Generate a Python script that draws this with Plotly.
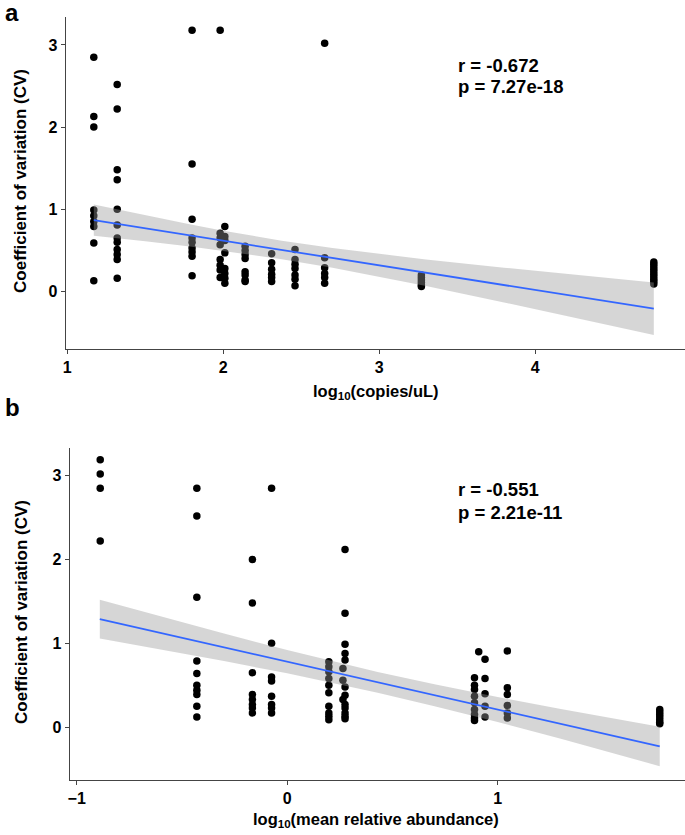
import numpy as np
import plotly.graph_objects as go

# ---------------- data ----------------
# Panel a: x = log10(copies/uL), y = CV ; grouped by x position
a_group_x = [1.17, 1.32, 1.80, 1.98, 2.01, 2.14, 2.31, 2.46, 2.65, 3.27, 4.76]
a_group_y = [
    [2.85, 2.13, 2.00, 0.99, 0.92, 0.85, 0.79, 0.59, 0.13],
    [2.52, 2.22, 1.48, 1.36, 1.00, 0.81, 0.65, 0.60, 0.51, 0.45, 0.39, 0.16],
    [3.18, 1.55, 0.88, 0.65, 0.60, 0.53, 0.48, 0.43, 0.19],
    [3.18, 0.71, 0.65, 0.57, 0.39, 0.32, 0.26, 0.17],
    [0.79, 0.67, 0.62, 0.47, 0.28, 0.22, 0.16, 0.10],
    [0.55, 0.50, 0.45, 0.40, 0.24, 0.20, 0.14, 0.12],
    [0.46, 0.35, 0.27, 0.21, 0.17, 0.12],
    [0.51, 0.39, 0.33, 0.28, 0.20, 0.15, 0.07],
    [3.02, 0.41, 0.29, 0.22, 0.17, 0.10],
    [0.20, 0.17, 0.14, 0.11, 0.08, 0.06],
    [0.36, 0.33, 0.30, 0.27, 0.24, 0.21, 0.18, 0.15, 0.12, 0.09],
]
# Panel a regression line and 95% CI half-width, read at several x positions
a_fit_x = [1.17, 1.5, 1.8, 2.0, 2.375, 2.7, 2.95, 3.3, 3.8, 4.3, 4.76]
a_fit_y = [0.867, 0.768, 0.678, 0.618, 0.505, 0.408, 0.333, 0.228, 0.078, -0.072, -0.210]
a_fit_half = [0.19, 0.157, 0.134, 0.122, 0.112, 0.120, 0.134, 0.162, 0.212, 0.267, 0.32]

# Panel b: x = log10(mean relative abundance), y = CV
b_group_x = [-0.888, -0.429, -0.165, -0.074, 0.198, 0.265, 0.275, 0.89, 0.91, 0.94, 1.046, 1.77]
b_group_y = [
    [3.19, 3.02, 2.85, 2.22],
    [2.85, 2.52, 1.55, 0.79, 0.64, 0.50, 0.44, 0.39, 0.25, 0.12],
    [2.00, 1.48, 0.65, 0.39, 0.33, 0.27, 0.23, 0.17],
    [2.85, 1.00, 0.60, 0.55, 0.37, 0.27, 0.23, 0.17],
    [0.78, 0.72, 0.66, 0.58, 0.50, 0.41, 0.25, 0.17, 0.13, 0.09],
    [0.70, 0.56, 0.33],
    [2.12, 1.36, 0.99, 0.88, 0.80, 0.48, 0.38, 0.27, 0.23, 0.17, 0.13, 0.10],
    [0.59, 0.50, 0.45, 0.37, 0.29, 0.21, 0.15, 0.11, 0.08],
    [0.90],
    [0.81, 0.58, 0.40, 0.25, 0.12],
    [0.91, 0.47, 0.39, 0.26, 0.17, 0.11],
    [0.21, 0.18, 0.15, 0.12, 0.09, 0.06, 0.04],
]
b_fit_x = [-0.89, -0.6, -0.3, 0.0, 0.2, 0.43, 0.7, 1.0, 1.3, 1.55, 1.77]
b_fit_y = [1.289, 1.124, 0.952, 0.781, 0.667, 0.535, 0.381, 0.210, 0.039, -0.104, -0.230]
b_fit_half = [0.231, 0.196, 0.164, 0.139, 0.128, 0.123, 0.130, 0.149, 0.178, 0.207, 0.235]

a_ticks = [1, 2, 3, 4]
b_ticks = [-1, 0, 1]
y_ticks = [0, 1, 2, 3]
a_stats = ["r = -0.672", "p = 7.27e-18"]
b_stats = ["r = -0.551", "p = 2.21e-11"]
y_title = "Coefficient of variation (CV)"
a_xtitle = "log<sub>10</sub>(copies/uL)"
b_xtitle = "log<sub>10</sub>(mean relative abundance)"

W, H = 685, 835
FONT = "Liberation Sans"


def flatten(gx, gy):
    xs, ys = [], []
    for x, ylist in zip(gx, gy):
        xs += [x] * len(ylist)
        ys += ylist
    return np.array(xs), np.array(ys)


fig = go.Figure()

panels = [
    (a_group_x, a_group_y, a_fit_x, a_fit_y, a_fit_half, "x", "y"),
    (b_group_x, b_group_y, b_fit_x, b_fit_y, b_fit_half, "x2", "y2"),
]
for gx, gy, fx, fy, fh, xa, ya in panels:
    x, y = flatten(gx, gy)
    fig.add_trace(go.Scatter(x=x, y=y, mode="markers", xaxis=xa, yaxis=ya,
                             marker=dict(color="black", size=7.5, line=dict(width=0)),
                             showlegend=False, hoverinfo="skip"))
    fx = np.array(fx)
    fy = np.array(fy)
    fh = np.array(fh)
    lo, hi = fy - fh, fy + fh
    fig.add_trace(go.Scatter(x=np.concatenate([fx, fx[::-1]]),
                             y=np.concatenate([hi, lo[::-1]]),
                             mode="lines", fill="toself", xaxis=xa, yaxis=ya,
                             fillcolor="rgba(153,153,153,0.4)", line=dict(width=0),
                             showlegend=False, hoverinfo="skip"))
    fig.add_trace(go.Scatter(x=fx, y=fy, mode="lines", xaxis=xa, yaxis=ya,
                             line=dict(color="#3366FF", width=1.8),
                             showlegend=False, hoverinfo="skip"))


def px_x(p):
    return p / W


def px_y(p):
    return 1 - p / H


axis_common = dict(showgrid=False, zeroline=False, showline=True, linecolor="#444",
                   linewidth=1, ticks="outside", ticklen=4, tickcolor="#444",
                   tickfont=dict(family=FONT, size=16, color="black", weight="bold"))

fig.update_layout(
    width=W, height=H, margin=dict(l=0, r=0, t=0, b=0),
    paper_bgcolor="white", plot_bgcolor="white",
    xaxis=dict(domain=[px_x(63), 1], range=[0.99, 4.96], tickvals=a_ticks,
               anchor="y", **axis_common),
    yaxis=dict(domain=[px_y(349), px_y(17)], range=[-0.70, 3.34], tickvals=y_ticks,
               anchor="x", **axis_common),
    xaxis2=dict(domain=[px_x(67), 1], range=[-1.033, 1.89], tickvals=b_ticks,
                anchor="y2", **axis_common),
    yaxis2=dict(domain=[px_y(780), px_y(448)], range=[-0.63, 3.33], tickvals=y_ticks,
                anchor="x2", **axis_common),
)

ann = []
bold = dict(family=FONT, color="black", weight="bold")
# panel letters
ann.append(dict(text="a", x=px_x(0), y=px_y(-3), xanchor="left", yanchor="top",
                font=dict(size=24, **bold)))
ann.append(dict(text="b", x=px_x(0), y=px_y(392), xanchor="left", yanchor="top",
                font=dict(size=24, **bold)))
# y titles
ann.append(dict(text=y_title, x=px_x(18), y=px_y(181), textangle=-90,
                xanchor="center", yanchor="middle", font=dict(size=17, **bold)))
ann.append(dict(text=y_title, x=px_x(18), y=px_y(612), textangle=-90,
                xanchor="center", yanchor="middle", font=dict(size=17, **bold)))
# x titles
ann.append(dict(text=a_xtitle, x=px_x(375), y=px_y(392), xanchor="center",
                yanchor="middle", font=dict(size=16.5, **bold)))
ann.append(dict(text=b_xtitle, x=px_x(375), y=px_y(820), xanchor="center",
                yanchor="middle", font=dict(size=16.5, **bold)))
# stats
for i, t in enumerate(a_stats):
    ann.append(dict(text=t, x=px_x(455), y=px_y(65 + 21 * i), xanchor="left",
                    yanchor="middle", font=dict(size=18.5, **bold)))
for i, t in enumerate(b_stats):
    ann.append(dict(text=t, x=px_x(455), y=px_y(490 + 22 * i), xanchor="left",
                    yanchor="middle", font=dict(size=18.5, **bold)))
for a in ann:
    a.update(xref="paper", yref="paper", showarrow=False)
fig.update_layout(annotations=ann)

fig.write_html("out.html", config={"displayModeBar": False},
               post_script="document.body.style.margin='0px';")
